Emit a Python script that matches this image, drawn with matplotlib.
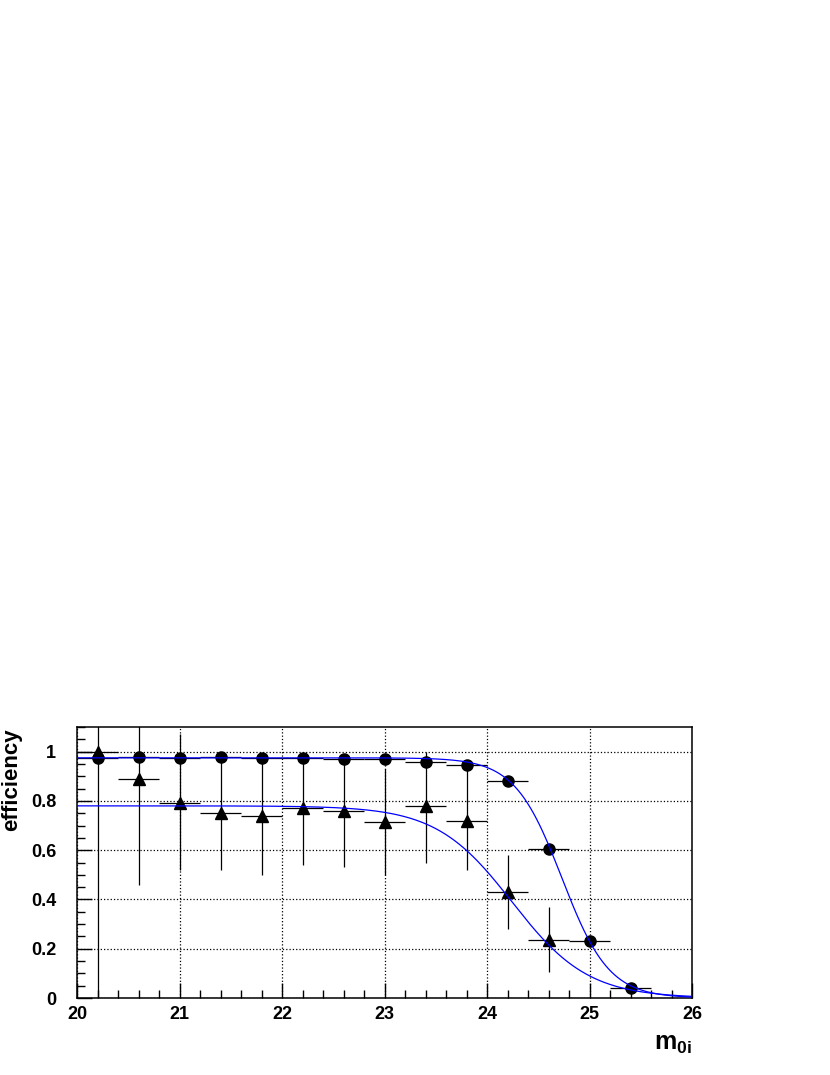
import numpy as np
import matplotlib
matplotlib.use("Agg")
import matplotlib.pyplot as plt
from matplotlib.ticker import MultipleLocator

plt.rcParams['font.family'] = ['Liberation Sans', 'DejaVu Sans']
plt.rcParams['font.weight'] = 'bold'
plt.rcParams['mathtext.fontset'] = 'custom'
plt.rcParams['mathtext.bf'] = 'Liberation Sans:bold'
plt.rcParams['mathtext.rm'] = 'Liberation Sans:bold'

# bin centres (magnitude), half width of bins
mag = [20.2, 20.6, 21.0, 21.4, 21.8, 22.2, 22.6, 23.0, 23.4, 23.8, 24.2, 24.6, 25.0, 25.4]
half_bin = 0.2

# circles
eff_circ = [0.975, 0.98, 0.975, 0.98, 0.975, 0.975, 0.972, 0.97, 0.96, 0.945, 0.88, 0.605, 0.23, 0.04]
err_circ = [0.01, 0.01, 0.01, 0.01, 0.01, 0.01, 0.01, 0.01, 0.01, 0.01, 0.015, 0.015, 0.015, 0.01]

# triangles (last point missing)
mag_tri = [20.2, 20.6, 21.0, 21.4, 21.8, 22.2, 22.6, 23.0, 23.4, 23.8, 24.2, 24.6]
eff_tri = [1.0, 0.89, 0.79, 0.75, 0.74, 0.77, 0.76, 0.715, 0.78, 0.72, 0.43, 0.235]
tri_lo = [1.0, 0.43, 0.27, 0.23, 0.24, 0.23, 0.23, 0.215, 0.23, 0.2, 0.15, 0.13]
tri_hi = [0.3, 0.3, 0.28, 0.25, 0.24, 0.21, 0.22, 0.215, 0.22, 0.21, 0.15, 0.135]

# fit parameters: plateau, 50% point, width
fit_circ = (0.975, 24.73, 0.23)
fit_tri = (0.78, 24.244, 0.371)


def fermi(m, p):
    return p[0] / (1.0 + np.exp((m - p[1]) / p[2]))


fig = plt.figure(figsize=(8.3, 10.75), dpi=100)
ax = fig.add_axes([0.0928, 0.0716, 0.741, 0.2521])

ax.errorbar(mag_tri, eff_tri, xerr=half_bin, yerr=[tri_lo, tri_hi], fmt='^',
            color='black', ms=8, elinewidth=0.9, capsize=0, zorder=3)
ax.errorbar(mag, eff_circ, xerr=half_bin, yerr=err_circ, fmt='o',
            color='black', ms=8, elinewidth=0.9, capsize=0, zorder=3)

mm = np.linspace(20, 26, 400)
ax.plot(mm, fermi(mm, fit_circ), color='#0000ff', lw=0.9, zorder=4)
ax.plot(mm, fermi(mm, fit_tri), color='#0000ff', lw=0.9, zorder=4)

ax.set_xlim(20, 26)
ax.set_ylim(0, 1.1)
ax.xaxis.set_major_locator(MultipleLocator(1))
ax.xaxis.set_minor_locator(MultipleLocator(0.2))
ax.yaxis.set_major_locator(MultipleLocator(0.2))
ax.yaxis.set_minor_locator(MultipleLocator(0.05))
ax.set_yticks([0, 0.2, 0.4, 0.6, 0.8, 1.0])
ax.set_yticklabels(['0', '0.2', '0.4', '0.6', '0.8', '1'])
ax.tick_params(which='both', direction='in', top=False, right=False, labelsize=13, width=1)
ax.tick_params(which='major', length=11)
ax.tick_params(axis='y', which='major', pad=15)
ax.tick_params(axis='x', which='major', pad=6)
ax.tick_params(which='minor', length=6)
ax.grid(True, which='major', linestyle=':', color='black', lw=0.9)
for s in ax.spines.values():
    s.set_linewidth(1.1)

fig.text(0.0145, 1 - 728 / 1075, 'efficiency', rotation=90, ha='center', va='top',
         fontsize=16, fontweight='bold')
ax.set_xlabel(r'$\mathbf{m_{0i}}$', fontsize=18, loc='right', labelpad=6)

fig.savefig('out.png', dpi=100)
